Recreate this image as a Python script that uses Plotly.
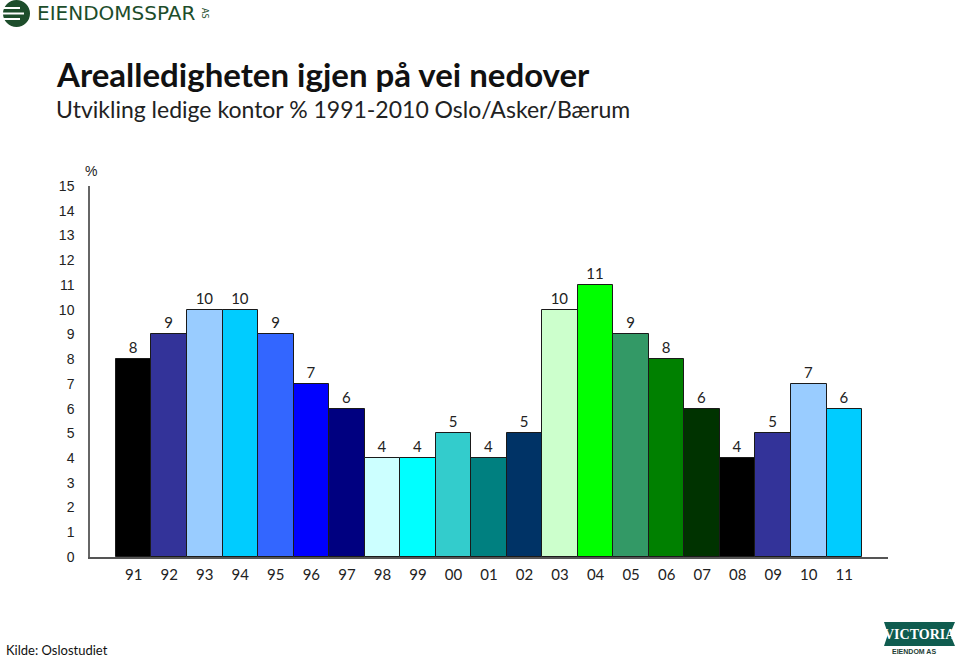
import plotly.graph_objects as go

years = ["91", "92", "93", "94", "95", "96", "97", "98", "99", "00", "01",
         "02", "03", "04", "05", "06", "07", "08", "09", "10", "11"]
vacancy = [8, 9, 10, 10, 9, 7, 6, 4, 4, 5, 4, 5, 10, 11, 9, 8, 6, 4, 5, 7, 6]
bar_colors = ["#000000", "#333399", "#99CCFF", "#00CCFF", "#3366FF", "#0000FF",
              "#000080", "#CCFFFF", "#00FFFF", "#33CCCC", "#008080", "#003366",
              "#CCFFCC", "#00FF00", "#339966", "#008000", "#003300", "#000000",
              "#333399", "#99CCFF", "#00CCFF"]
y_ticks = list(range(0, 16))

W, H = 960, 657
L, R, T, B = 90, 888, 186, 557


def px(x):
    return (x - L) / (R - L)


def py(y):
    return (B - y) / (B - T)


xpos = list(range(len(years)))

fig = go.Figure(go.Bar(
    x=xpos, y=vacancy, width=1,
    marker=dict(color=bar_colors, line=dict(color="#1a1a1a", width=1)),
    text=[str(v) for v in vacancy], textposition="outside",
    textfont=dict(family="Lato", size=15, color="#222222"),
    cliponaxis=False, hoverinfo="x+y",
))

fig.update_layout(
    width=W, height=H,
    margin=dict(l=L, r=W - R, t=T, b=H - B, pad=0),
    paper_bgcolor="white", plot_bgcolor="white",
    showlegend=False,
    bargap=0,
    xaxis=dict(
        range=[-1.23, len(years) - 1 + 1.23],
        tickmode="array", tickvals=xpos, ticktext=years,
        showline=True, linecolor="#555555", linewidth=1.5,
        showgrid=False, zeroline=False, ticks="",
        tickfont=dict(family="Lato", size=15, color="#222222"),
        ticklabelstandoff=3,
    ),
    yaxis=dict(
        range=[0, 15], tickmode="array", tickvals=y_ticks,
        showline=True, linecolor="#666666", linewidth=1.5,
        showgrid=False, zeroline=False, ticks="",
        tickfont=dict(family="Liberation Sans", size=14, color="#222222"),
        ticklabelstandoff=11,
    ),
)

annotations = [
    dict(text="<b>Arealledigheten igjen på vei nedover</b>", x=px(54), y=py(74),
         xanchor="left", yanchor="middle",
         font=dict(family="Lato", size=33, color="#111111")),
    dict(text="Utvikling ledige kontor % 1991-2010 Oslo/Asker/Bærum", x=px(54), y=py(109),
         xanchor="left", yanchor="middle",
         font=dict(family="Lato", size=23, color="#222222")),
    dict(text="%", x=px(91), y=py(171), xanchor="center", yanchor="middle",
         font=dict(family="Liberation Sans", size=14, color="#222222")),
    dict(text="Kilde: Oslostudiet", x=px(4), y=py(650), xanchor="left", yanchor="middle",
         font=dict(family="Lato", size=13, color="#111111")),
    dict(text="EIENDOMSSPAR", x=px(35), y=py(13), xanchor="left", yanchor="middle",
         font=dict(family="DejaVu Sans", size=20, color="#1d4d2b")),
    dict(text="AS", x=px(205), y=py(13), xanchor="center", yanchor="middle", textangle=90,
         font=dict(family="DejaVu Sans", size=8, color="#1d4d2b")),
    dict(text="<b>VICTORIA</b>", x=px(920), y=py(636), xanchor="center", yanchor="middle",
         font=dict(family="Liberation Serif", size=14, color="white")),
    dict(text="<b>EIENDOM AS</b>", x=px(914), y=py(651), xanchor="center", yanchor="middle",
         font=dict(family="Liberation Sans", size=7, color="#1d3d35")),
]
for a in annotations:
    a.update(xref="paper", yref="paper", showarrow=False)
fig.update_layout(annotations=annotations)

shapes = [
    dict(type="circle", x0=px(3), x1=px(30), y0=py(27), y1=py(0),
         fillcolor="#1d4d2b", line=dict(width=0)),
    dict(type="line", x0=px(3), x1=px(20), y0=py(8), y1=py(8),
         line=dict(color="white", width=2)),
    dict(type="line", x0=px(3), x1=px(24), y0=py(13.5), y1=py(13.5),
         line=dict(color="white", width=2)),
    dict(type="line", x0=px(3), x1=px(20), y0=py(19), y1=py(19),
         line=dict(color="white", width=2)),
    dict(type="path",
         path=f"M {px(884)},{py(622)} L {px(955)},{py(622)} L {px(950)},{py(634)} "
              f"L {px(955)},{py(646)} L {px(884)},{py(646)} L {px(888)},{py(634)} Z",
         fillcolor="#0f5c4f", line=dict(width=0)),
]
for s in shapes:
    s.update(xref="paper", yref="paper", layer="above")
fig.update_layout(shapes=shapes)
fig.layout.annotations[6].y = py(634)

fig.write_html("out.html", config={"displayModeBar": False},
               post_script="document.body.style.margin='0';document.body.style.padding='0';"
                           "document.body.style.overflow='hidden';")
